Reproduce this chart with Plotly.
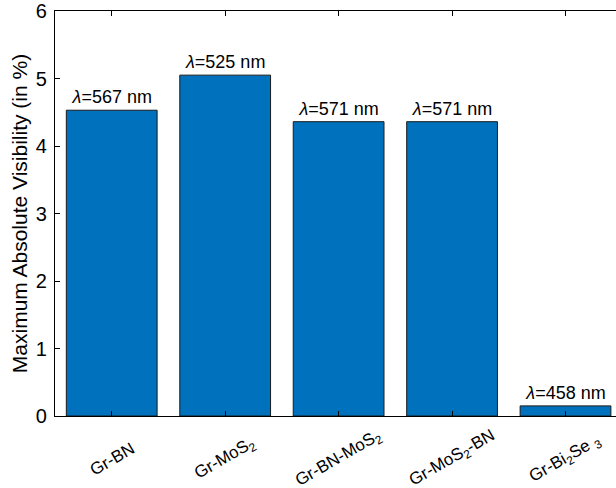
import plotly.graph_objects as go

# Heterostructure samples and their peak visibility
samples = ["Gr-BN", "Gr-MoS<sub>2</sub>", "Gr-BN-MoS<sub>2</sub>",
           "Gr-MoS<sub>2</sub>-BN", "Gr-Bi<sub>2</sub>Se <sub>3</sub>"]
visibility = [4.53, 5.05, 4.36, 4.36, 0.15]
wavelengths = [567, 525, 571, 571, 458]

positions = list(range(1, len(samples) + 1))
labels = [f"<i>λ</i>={w} nm" for w in wavelengths]

fig = go.Figure()
fig.add_trace(go.Bar(
    x=positions, y=visibility, width=0.8,
    marker=dict(color="#0072BD", line=dict(color="#1a1a1a", width=1)),
    text=labels, textposition="outside",
    textfont=dict(family="Liberation Sans, Arial", size=18, color="black"),
    cliponaxis=False,
))

# Rotated category labels, centred under each tick
for pos, name in zip(positions, samples):
    fig.add_annotation(
        x=pos, y=0, xref="x", yref="y", yshift=-43,
        text=name, textangle=-30, showarrow=False,
        xanchor="center", yanchor="middle",
        font=dict(family="Liberation Sans, Arial", size=17, color="black"),
    )

fig.update_layout(
    width=616, height=488,
    margin=dict(l=55, r=0, t=11, b=72, autoexpand=False),
    paper_bgcolor="white", plot_bgcolor="white",
    showlegend=False,
    font=dict(family="Liberation Sans, Arial", color="black"),
)
fig.update_xaxes(
    range=[0.5, 5.445], tickvals=positions, showticklabels=False,
    ticks="inside", ticklen=5, tickcolor="black",
    showline=True, linecolor="black", linewidth=1.2, mirror="ticks",
    showgrid=False, zeroline=False, automargin=False,
)
fig.update_yaxes(
    range=[0, 6], dtick=1, ticks="inside", ticklen=5, tickcolor="black",
    showline=True, linecolor="black", linewidth=1.2, mirror=False,
    showgrid=False, zeroline=False, automargin=False,
    tickfont=dict(size=20), ticklabelstandoff=3,
    title=dict(text="Maximum Absolute Visibility (in %)", font=dict(size=21), standoff=2),
)

fig.write_html("out.html")
